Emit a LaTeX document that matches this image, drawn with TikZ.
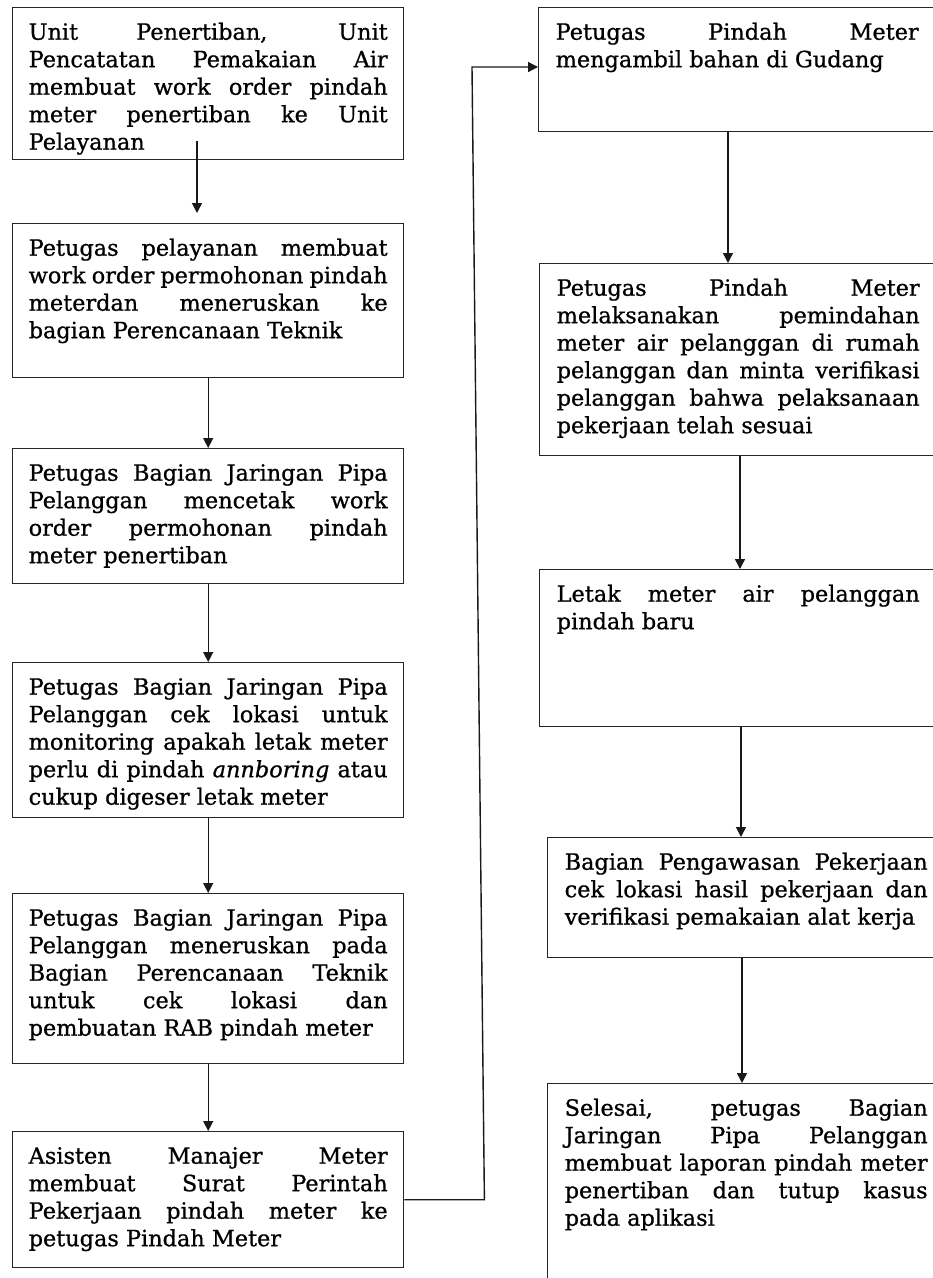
\documentclass[tikz,border=0pt]{standalone}
\usepackage{fontspec}
\setmainfont[FakeBold=0.8]{DejaVu Serif}
\usetikzlibrary{arrows.meta,calc}
\newlength\tw
\newcommand\jline[1]{\hbox to\tw{\rule{0pt}{17pt}#1}}
\newcommand\lline[1]{\hbox{\rule{0pt}{17pt}#1}}
\newcommand\boxtext[3]{\parbox[t][#1][t]{#2}{\vspace*{15pt}#3}}
\newcommand\lefttext[2]{\setlength\tw{359pt}\boxtext{#1}{359pt}{#2}}
\newcommand\righttext[2]{\setlength\tw{363pt}\boxtext{#1}{380pt}{#2}}
\tikzset{
  flowbox/.style={draw=black!85, line width=1.4pt, inner ysep=0pt, anchor=north west,
    font=\fontsize{22.4pt}{27.5pt}\selectfont},
  lbox/.style={flowbox, inner xsep=16pt},
  rbox/.style={flowbox, inner xsep=17pt},
  arr/.style={draw=black!90, line width=1.4pt, -{Triangle[width=10pt,length=10pt]}}
}
\begin{document}
\begin{tikzpicture}[x=1pt,y=-1pt]
\useasboundingbox (0,0) rectangle (933,1278);
\fill[white] (0,0) rectangle (933,1278);
\clip (0,0) rectangle (933,1278);
% left column
\node[lbox] (b1) at (12,7) {\lefttext{152pt}{%
  \jline{Unit Penertiban, Unit}
  \jline{Pencatatan Pemakaian Air}
  \jline{membuat work order pindah}
  \jline{meter penertiban ke Unit}
  \lline{Pelayanan}}};
\node[lbox] (b2) at (12,223) {\lefttext{154pt}{%
  \jline{Petugas pelayanan membuat}
  \jline{work order permohonan pindah}
  \jline{meterdan meneruskan ke}
  \lline{bagian Perencanaan Teknik}}};
\node[lbox] (b3) at (12,448) {\lefttext{135pt}{%
  \jline{Petugas Bagian Jaringan Pipa}
  \jline{Pelanggan mencetak work}
  \jline{order permohonan pindah}
  \lline{meter penertiban}}};
\node[lbox] (b4) at (12,662) {\lefttext{155pt}{%
  \jline{Petugas Bagian Jaringan Pipa}
  \jline{Pelanggan cek lokasi untuk}
  \jline{monitoring apakah letak meter}
  \jline{perlu di pindah \textit{annboring} atau}
  \lline{cukup digeser letak meter}}};
\node[lbox] (b5) at (12,893) {\lefttext{170pt}{%
  \jline{Petugas Bagian Jaringan Pipa}
  \jline{Pelanggan meneruskan pada}
  \jline{Bagian Perencanaan Teknik}
  \jline{untuk cek lokasi dan}
  \lline{pembuatan RAB pindah meter}}};
\node[lbox] (b6) at (12,1131) {\lefttext{136pt}{%
  \jline{Asisten Manajer Meter}
  \jline{membuat Surat Perintah}
  \jline{Pekerjaan pindah meter ke}
  \lline{petugas Pindah Meter}}};
% right column
\node[rbox] (b7) at (538,7) {\righttext{124pt}{%
  \jline{Petugas Pindah Meter}
  \lline{mengambil bahan di Gudang}}};
\node[rbox] (b8) at (539,263) {\righttext{192pt}{%
  \jline{Petugas Pindah Meter}
  \jline{melaksanakan pemindahan}
  \jline{meter air pelanggan di rumah}
  \jline{pelanggan dan minta verifikasi}
  \jline{pelanggan bahwa pelaksanaan}
  \lline{pekerjaan telah sesuai}}};
\node[rbox] (b9) at (539,569) {\righttext{157pt}{%
  \jline{Letak meter air pelanggan}
  \lline{pindah baru}}};
\node[rbox] (b10) at (547,837) {\righttext{120pt}{%
  \jline{Bagian Pengawasan Pekerjaan}
  \jline{cek lokasi hasil pekerjaan dan}
  \lline{verifikasi pemakaian alat kerja}}};
\node[rbox] (b11) at (547,1083) {\righttext{230pt}{%
  \jline{Selesai, petugas Bagian}
  \jline{Jaringan Pipa Pelanggan}
  \jline{membuat laporan pindah meter}
  \jline{penertiban dan tutup kasus}
  \lline{pada aplikasi}}};
% left connectors
\coordinate (a1) at ($(b1.south west)+(185,-19)$);
\draw[arr, shorten >=10pt] (a1) -- (a1 |- b2.north);
\draw[arr] (b2.south) -- (b3.north);
\draw[arr] (b3.south) -- (b4.north);
\draw[arr] (b4.south) -- (b5.north);
\draw[arr] (b5.south) -- (b6.north);
% long connector
\coordinate (c1) at ($(b6.east)+(80,0)$);
\coordinate (c2) at (472,67);
\draw[arr] (b6.east) -- (c1) -- (c2) -- (c2 -| b7.west);
% right connectors
\coordinate (r1) at ($(b7.south west)+(190,0)$);
\draw[arr] (r1) -- (r1 |- b8.north);
\coordinate (r2) at ($(b8.south west)+(201,0)$);
\draw[arr] (r2) -- (r2 |- b9.north);
\coordinate (r3) at ($(b9.south west)+(202,0)$);
\draw[arr] (r3) -- (r3 |- b10.north);
\coordinate (r4) at ($(b10.south west)+(195,0)$);
\draw[arr] (r4) -- (r4 |- b11.north);
\end{tikzpicture}
\end{document}
